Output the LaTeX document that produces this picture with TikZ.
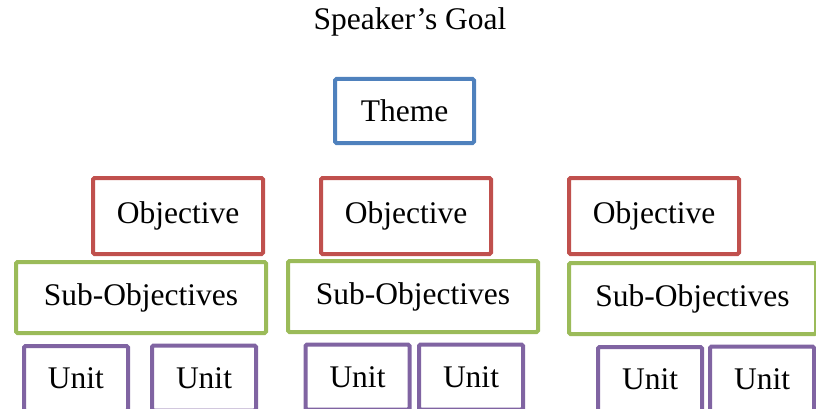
\documentclass[tikz,border=0pt]{standalone}
\usepackage{fontspec}
\setmainfont{Liberation Serif}
\usepackage{xcolor}
\usepackage{tikz}
\usetikzlibrary{positioning}

\definecolor{themeblue}{HTML}{4F81BD}
\definecolor{objred}{HTML}{C0504D}
\definecolor{subgreen}{HTML}{9BBB59}
\definecolor{unitpurple}{HTML}{8064A2}

\tikzset{
  goalbox/.style={draw=#1, line width=4pt, rounded corners=1.5pt, fill=white,
    inner sep=0pt, outer sep=0pt}
}

\begin{document}
\begin{tikzpicture}[x=1pt, y=-1pt, font=\fontsize{31.5}{36}\selectfont]
\useasboundingbox (0,0) rectangle (816,409);
\clip (0,0) rectangle (816,409);
% title and theme
\node (goal) at (410,22) {Speaker’s Goal};
\node[goalbox=themeblue, minimum width=139pt, minimum height=64pt] (theme) at (404.5,111) {Theme};
% objectives
\foreach \x/\name in {178/1, 406/2, 654/3}{
  \node[goalbox=objred, minimum width=170pt, minimum height=76pt] (obj\name) at (\x,216) {Objective};
}
% sub-objectives
\foreach \x/\y/\w/\name in {141/297.5/250/1, 413/296.5/250/2, 692.5/298.5/247/3}{
  \node[goalbox=subgreen, minimum width=\w pt, minimum height=71pt] (sub\name) at (\x,\y) {Sub-Objectives};
}
% units
\foreach \x/\y/\name in {76/378.5/1, 204/378/2, 357.5/377/3, 471/377/4, 650/379.5/5, 762/379/6}{
  \node[goalbox=unitpurple, minimum width=104pt, minimum height=65pt] (unit\name) at (\x,\y) {Unit};
}
\end{tikzpicture}
\end{document}
